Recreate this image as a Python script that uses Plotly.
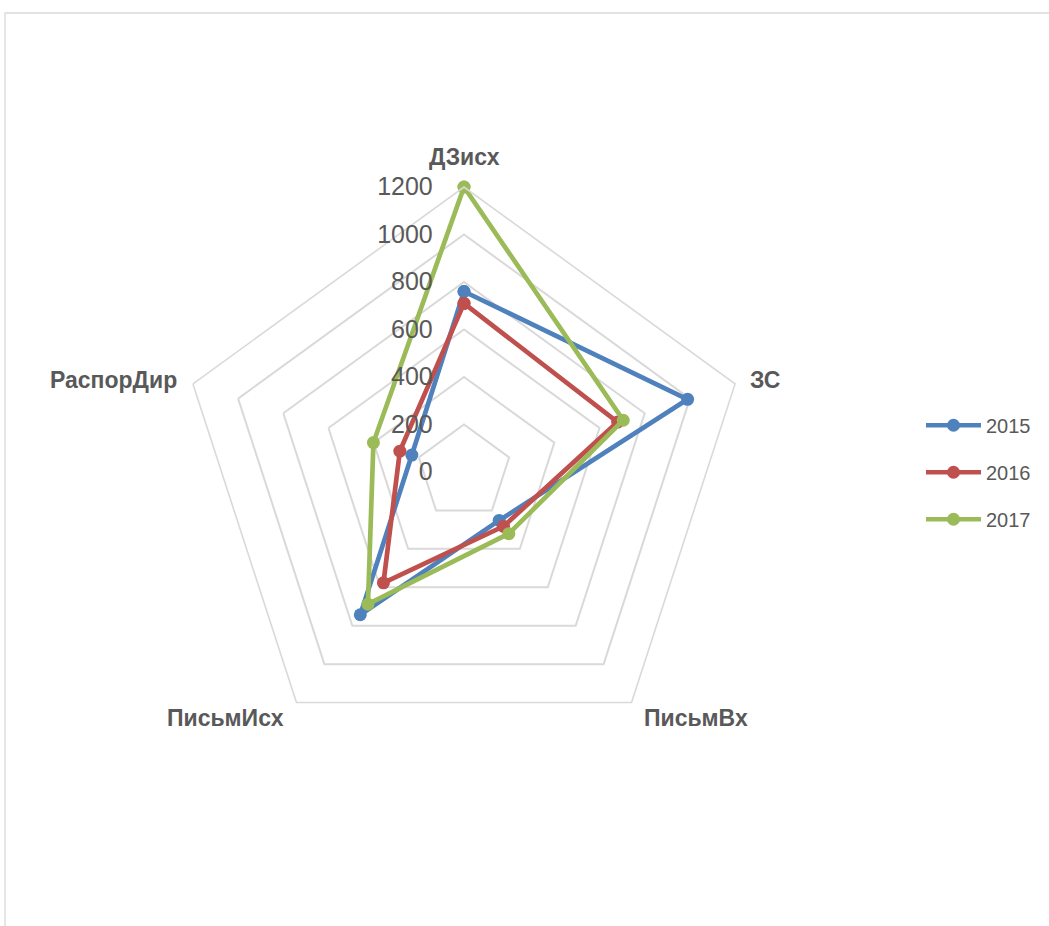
import plotly.graph_objects as go

categories = ["ДЗисх", "ЗС", "ПисьмВх", "ПисьмИсх", "РаспорДир"]
years = ["2015", "2016", "2017"]
v2015 = [760, 990, 252, 743, 231]
v2016 = [710, 680, 283, 577, 284]
v2017 = [1200, 705, 321, 688, 401]
colors = ["#4F81BD", "#C0504D", "#9BBB59"]
radial_ticks = [0, 200, 400, 600, 800, 1000, 1200]

# layout (pixel) settings
W, H = 1049, 926
cx, cy, R = 464, 472, 285
label_pos = [(464, 157), (765, 380), (696, 718), (225, 718), (113, 380)]

fig = go.Figure()
for name, vals, col in zip(years, [v2015, v2016, v2017], colors):
    fig.add_trace(go.Scatterpolar(
        r=vals + vals[:1],
        theta=categories + categories[:1],
        mode="lines+markers",
        name=name,
        legendgroup=name,
        line=dict(color=col, width=4.7),
        marker=dict(color=col, size=13),
    ))

annotations = []
for cat, (px, py) in zip(categories, label_pos):
    annotations.append(dict(
        text="<b>%s</b>" % cat, xref="paper", yref="paper",
        x=px / W, y=1 - py / H, xanchor="center", yanchor="middle",
        showarrow=False,
        font=dict(size=23, color="#595959", family="Liberation Sans, Arial, sans-serif"),
    ))

fig.update_layout(
    width=W, height=H,
    margin=dict(l=0, r=0, t=0, b=0),
    paper_bgcolor="white",
    plot_bgcolor="white",
    font=dict(family="Liberation Sans, Arial, sans-serif", color="#595959"),
    polar=dict(
        domain=dict(x=[(cx - R) / W, (cx + R) / W], y=[1 - (cy + R) / H, 1 - (cy - R) / H]),
        gridshape="linear",
        bgcolor="white",
        radialaxis=dict(
            range=[0, 1200],
            tickvals=radial_ticks,
            ticktext=[str(t) for t in radial_ticks],
            angle=90,
            side="counterclockwise",
            showline=False,
            showgrid=True,
            gridcolor="#D9D9D9",
            gridwidth=1.6,
            ticks="outside",
            ticklen=22,
            tickcolor="rgba(0,0,0,0)",
            tickfont=dict(size=25, color="#595959"),
            tickangle=90,
        ),
        angularaxis=dict(
            tickmode="array",
            tickvals=categories,
            rotation=90,
            direction="clockwise",
            showgrid=False,
            showline=True,
            linecolor="#D9D9D9",
            linewidth=1.6,
            ticks="",
            showticklabels=False,
        ),
    ),
    showlegend=True,
    legend=dict(
        x=921 / W, y=0.49, xanchor="left", yanchor="middle",
        font=dict(size=20, color="#595959"),
        itemwidth=55,
        tracegroupgap=18,
        bgcolor="rgba(0,0,0,0)",
    ),
    annotations=annotations,
    shapes=[dict(
        type="rect", xref="paper", yref="paper",
        x0=5 / W, x1=1.02, y0=-0.02, y1=1 - 13 / H,
        line=dict(color="#D9D9D9", width=1.3),
        fillcolor="rgba(0,0,0,0)",
        layer="below",
    )],
)

fig.write_html("out.html", config={"displayModeBar": False},
               post_script="document.body.style.margin='0';")
